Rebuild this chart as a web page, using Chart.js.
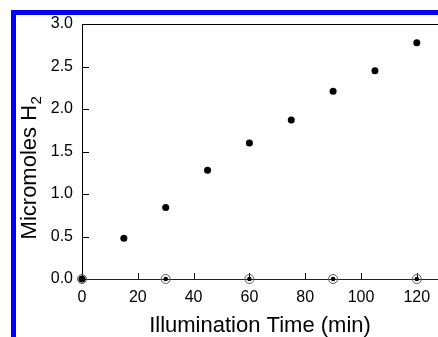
<!DOCTYPE html>
<html>
<head>
<meta charset="utf-8">
<script src="https://cdn.jsdelivr.net/npm/chart.js@4"></script>
<style>
  html, body { margin: 0; padding: 0; background: #fff; }
  #wrap { width: 438px; height: 337px; position: relative; }
  canvas { display: block; }
</style>
</head>
<body>
<div id="wrap"><canvas id="c" width="438" height="337"></canvas></div>
<script>
// ---- data ----
const timeMin   = [0, 15, 30, 45, 60, 75, 90, 105, 120];
const h2Micromol = [0, 0.48, 0.84, 1.28, 1.60, 1.87, 2.21, 2.45, 2.78];
const controlTime = [0, 30, 60, 90, 120];
const controlH2   = [0, 0, 0, 0, 0];
const xTickValues = [0, 20, 40, 60, 80, 100, 120];
const yTickValues = [0, 0.5, 1.0, 1.5, 2.0, 2.5, 3.0];
const xTitle = 'Illumination Time (min)';
const yTitleMain = 'Micromoles H';
const yTitleSub = '2';

const FONT = "'Liberation Sans', Arial, Helvetica, sans-serif";
Chart.defaults.font.family = FONT;
Chart.defaults.color = '#000';

const pts = (xs, ys) => xs.map((x, i) => ({ x: x, y: ys[i] }));

// let the plot run to the right edge of the canvas (axis is cut off there)
const fullRight = {
  id: 'fullRight',
  afterLayout(chart) {
    const xs = chart.scales.x;
    const r = chart.width;
    xs.right = r;
    xs.width = r - xs.left;
    xs.configure();
    chart.chartArea.right = r;
    chart.chartArea.width = r - chart.chartArea.left;
  }
};

const decor = {
  id: 'decor',
  beforeDatasetsDraw(chart) {
    const ctx = chart.ctx;
    const xs = chart.scales.x, ys = chart.scales.y;
    const a = chart.chartArea;
    ctx.save();
    ctx.strokeStyle = '#000';
    ctx.lineWidth = 1;
    // top frame line
    ctx.beginPath();
    ctx.moveTo(a.left, Math.round(a.top) + 0.5);
    ctx.lineTo(chart.width, Math.round(a.top) + 0.5);
    ctx.stroke();
    // inward x ticks
    ctx.beginPath();
    xTickValues.forEach(v => {
      if (v === 0) return;
      const px = Math.round(xs.getPixelForValue(v)) + 0.5;
      ctx.moveTo(px, a.bottom);
      ctx.lineTo(px, a.bottom - 6);
    });
    // inward y ticks
    yTickValues.forEach(v => {
      if (v === 0 || v === 3) return;
      const py = Math.round(ys.getPixelForValue(v)) + 0.5;
      ctx.moveTo(a.left, py);
      ctx.lineTo(a.left + 7, py);
    });
    ctx.stroke();
    ctx.restore();
  },
  afterDraw(chart) {
    const ctx = chart.ctx;
    ctx.save();
    // y axis title with subscript
    const mainFont = '22px ' + FONT;
    const subFont = '15px ' + FONT;
    ctx.font = mainFont;
    const w1 = ctx.measureText(yTitleMain).width;
    ctx.font = subFont;
    const w2 = ctx.measureText(yTitleSub).width;
    const total = w1 + w2;
    ctx.translate(36, 168);
    ctx.rotate(-Math.PI / 2);
    ctx.fillStyle = '#000';
    ctx.textBaseline = 'alphabetic';
    ctx.textAlign = 'left';
    ctx.font = mainFont;
    ctx.fillText(yTitleMain, -total / 2, 0);
    ctx.font = subFont;
    ctx.fillText(yTitleSub, -total / 2 + w1 + 0.5, 5);
    ctx.restore();
    // blue border
    ctx.save();
    ctx.fillStyle = '#0000ff';
    ctx.fillRect(11, 10, chart.width - 11, 5);
    ctx.fillRect(11, 10, 5, chart.height - 10);
    ctx.restore();
  }
};

new Chart(document.getElementById('c'), {
  type: 'scatter',
  data: {
    datasets: [
      {
        label: 'H2',
        data: pts(timeMin, h2Micromol),
        pointRadius: 3.5,
        pointHoverRadius: 3.5,
        pointBackgroundColor: '#000',
        pointBorderColor: '#000',
        pointBorderWidth: 0,
        clip: false
      },
      {
        label: 'control dot',
        data: pts(controlTime, controlH2),
        pointRadius: 2.3,
        pointBackgroundColor: '#000',
        pointBorderColor: '#000',
        pointBorderWidth: 0,
        clip: false
      },
      {
        label: 'control',
        data: pts(controlTime, controlH2),
        pointRadius: 4.5,
        pointBackgroundColor: 'rgba(255,255,255,0)',
        pointBorderColor: '#555',
        pointBorderWidth: 1,
        clip: false
      }
    ]
  },
  options: {
    responsive: false,
    animation: false,
    events: [],
    layout: { padding: { top: 24, left: 0, right: 0, bottom: 0 } },
    plugins: { legend: { display: false }, tooltip: { enabled: false } },
    scales: {
      x: {
        type: 'linear',
        min: 0,
        max: 127.6,
        afterBuildTicks(s) { s.ticks = xTickValues.map(v => ({ value: v })); },
        afterFit(s) { s.height = 58; },
        grid: { display: false, drawTicks: false },
        border: { display: true, color: '#222', width: 1 },
        ticks: { padding: 0, font: { size: 16, lineHeight: 37 / 16 }, color: '#000', maxRotation: 0,
                 callback: v => String(v) },
        title: { display: true, text: xTitle, color: '#000',
                 font: { size: 22, lineHeight: 1 }, padding: { top: 0, bottom: 0 } }
      },
      y: {
        type: 'linear',
        min: 0,
        max: 3,
        afterBuildTicks(s) { s.ticks = yTickValues.map(v => ({ value: v })); },
        afterFit(s) { s.width = 82; },
        grid: { display: false, drawTicks: false },
        border: { display: true, color: '#000', width: 1 },
        ticks: { padding: 9, font: { size: 16 }, color: '#000',
                 callback: v => Number(v).toFixed(1) },
        title: { display: false }
      }
    }
  },
  plugins: [fullRight, decor]
});
</script>
</body>
</html>
